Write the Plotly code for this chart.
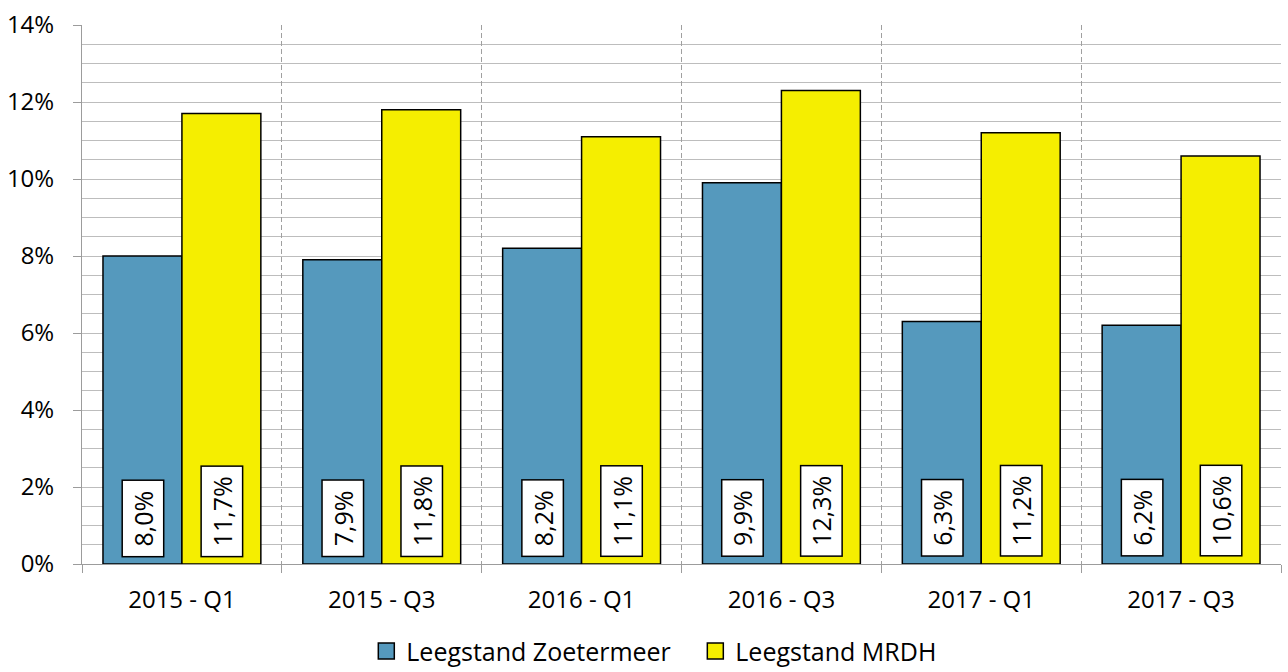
import plotly.graph_objects as go

categories = ["2015 - Q1", "2015 - Q3", "2016 - Q1", "2016 - Q3", "2017 - Q1", "2017 - Q3"]
zoetermeer = [8.0, 7.9, 8.2, 9.9, 6.3, 6.2]
mrdh = [11.7, 11.8, 11.1, 12.3, 11.2, 10.6]
series_names = ["Leegstand Zoetermeer", "Leegstand MRDH"]
y_ticks = [0, 2, 4, 6, 8, 10, 12, 14]
y_tick_text = ["0%", "2%", "4%", "6%", "8%", "10%", "12%", "14%"]

FONT = "Open Sans"
BARGAP = 0.21
BLUE = "#5599BD"
YELLOW = "#F5EE00"
colors = [BLUE, YELLOW]
GRID = "#bdbdbd"
AXIS = "#9c9c9c"


def fmt(v):
    return f"{v:.1f}".replace(".", ",") + "%"


fig = go.Figure()
for name, vals, col in zip(series_names, [zoetermeer, mrdh], colors):
    fig.add_trace(go.Bar(x=categories, y=vals, name=name, showlegend=False,
                         marker=dict(color=col, line=dict(color="black", width=1.5))))
# legend entries with square swatches
legend_pad = ["\u00a0\u00a0\u00a0", ""]
for name, col, pad in zip(series_names, colors, legend_pad):
    fig.add_trace(go.Scatter(x=[None], y=[None], mode="markers", name=name + pad,
                             marker=dict(symbol="square", size=16, color=col,
                                         line=dict(color="black", width=1.5))))

offset = (1 - BARGAP) / 4
annotations = []
for i, (a, b) in enumerate(zip(zoetermeer, mrdh)):
    for xpos, v in ((i - offset, a), (i + offset, b)):
        annotations.append(dict(
            x=xpos, y=0, xref="x", yref="y", text=" " + fmt(v) + " ",
            showarrow=False, textangle=-90, xanchor="center", yanchor="bottom",
            yshift=7, bgcolor="white", bordercolor="black", borderwidth=1.5,
            borderpad=3, font=dict(family=FONT, size=25, color="black")))

fig.update_layout(
    width=1288, height=672,
    margin=dict(l=82, r=7, t=21, b=108),
    paper_bgcolor="white", plot_bgcolor="white",
    barmode="group", bargap=BARGAP, bargroupgap=0,
    font=dict(family=FONT, size=24, color="black"),
    annotations=annotations,
    legend=dict(orientation="h", xref="container", yref="container",
                x=0.508, xanchor="center", y=0.031, yanchor="middle",
                font=dict(family=FONT, size=25, color="black"),
                itemwidth=30, traceorder="normal"),
    xaxis=dict(
        type="category", tickson="boundaries", showgrid=True,
        gridcolor="#a0a0a0", griddash="5px,3px", gridwidth=1,
        showline=True, linecolor=AXIS, linewidth=1,
        ticks="outside", ticklen=8, tickcolor=AXIS,
        ticklabelstandoff=14,
        tickfont=dict(family=FONT, size=24, color="black"),
        range=[-0.5, len(categories) - 0.5],
    ),
    yaxis=dict(
        range=[0, 14], tickvals=y_ticks, ticktext=y_tick_text,
        showgrid=True, gridcolor=GRID, gridwidth=1.3,
        showline=True, linecolor=AXIS, linewidth=1,
        ticks="outside", ticklen=8, tickcolor=AXIS,
        ticklabelstandoff=14,
        tickfont=dict(family=FONT, size=24, color="black"),
        minor=dict(dtick=0.5, showgrid=True, gridcolor=GRID, gridwidth=1.3),
        zeroline=False,
    ),
)

fig.write_html("out.html", config={"displayModeBar": False},
               post_script="document.body.style.margin='0';")
